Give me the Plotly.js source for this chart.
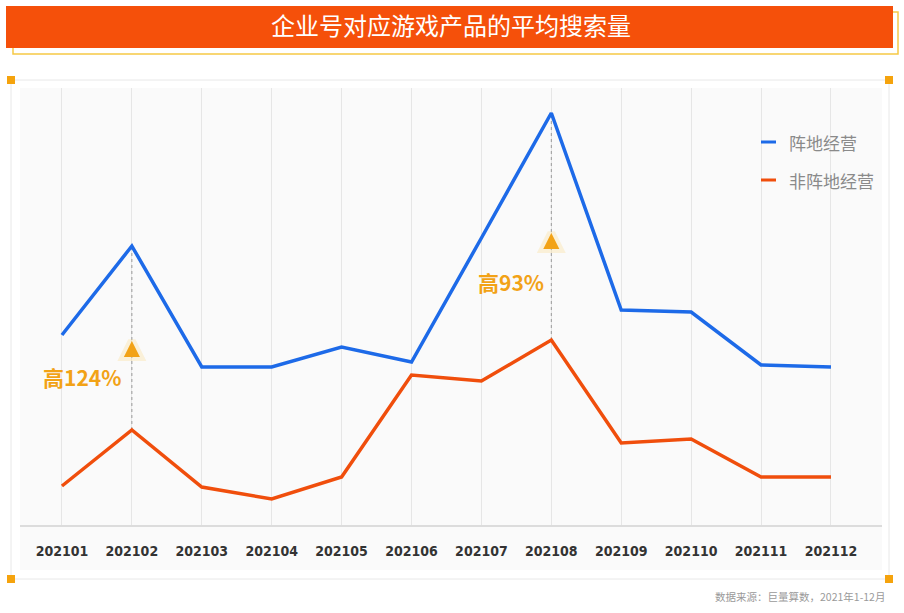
<!DOCTYPE html>
<html>
<head>
<meta charset="utf-8">
<script src="https://cdn.plot.ly/plotly-3.0.1.min.js"></script>
<style>html,body{margin:0;padding:0;background:#fff;}#chart{width:904px;height:613px;}</style>
</head>
<body>
<div id="chart"></div>
<script>
// ---- data ----
const months = ["202101","202102","202103","202104","202105","202106","202107","202108","202109","202110","202111","202112"];
const seriesNames = ["阵地经营", "非阵地经营"];
const positional = [245, 334, 213, 213, 233, 218, 342, 467, 270, 268, 215, 213];   // 阵地经营
const nonPositional = [94, 150, 93, 81, 103, 205, 199, 240, 137, 141, 103, 103];  // 非阵地经营
const highlightIdx = [1, 7];
const highlightLabels = ["高124%", "高93%"];
const markerLevels = [239, 347];
const titleText = "企业号对应游戏产品的平均搜索量";
const sourceText = "数据来源：巨量算数，2021年1-12月";

// ---- geometry helpers (pixel -> paper) ----
const W = 904, H = 613;
const L = 20, R = 22, T = 88, B = 88;
const pw = W - L - R, ph = H - T - B;
const px = x => (x - L) / pw;
const py = y => (H - B - y) / ph;

const BLUE = "#1d6ae8", ORANGE = "#f04e0c", GOLD = "#f2a216";
const xIdx = months.map((m, i) => i);

const traces = [];
// dotted connectors between the two series at highlighted months
highlightIdx.forEach(i => {
  traces.push({x: [i, i], y: [nonPositional[i], positional[i]], type: "scatter", mode: "lines",
    line: {color: "#9a9a9a", width: 1, dash: "dot"}, hoverinfo: "skip", showlegend: false});
});
traces.push({x: xIdx, y: positional, name: seriesNames[0], type: "scatter", mode: "lines",
  line: {color: BLUE, width: 3.5}, showlegend: false});
traces.push({x: xIdx, y: nonPositional, name: seriesNames[1], type: "scatter", mode: "lines",
  line: {color: ORANGE, width: 3.5}, showlegend: false});
// glow + triangle markers
traces.push({x: highlightIdx, y: markerLevels, type: "scatter", mode: "markers",
  marker: {symbol: "arrow-up", size: 16, color: "rgba(250,210,120,0.35)", line: {width: 8, color: "rgba(250,215,130,0.28)"}},
  hoverinfo: "skip", showlegend: false});
traces.push({x: highlightIdx, y: markerLevels, type: "scatter", mode: "markers",
  marker: {symbol: "arrow-up", size: 16, color: GOLD, line: {width: 0}},
  hoverinfo: "skip", showlegend: false});

const shapes = [
  // banner shadow + banner
  {type: "rect", xref: "paper", yref: "paper", x0: px(13), x1: px(898), y0: py(54), y1: py(12),
    fillcolor: "#ffffff", line: {color: "#f6c945", width: 1.5}, layer: "above"},
  {type: "rect", xref: "paper", yref: "paper", x0: px(6), x1: px(893), y0: py(48), y1: py(6),
    fillcolor: "#f5500a", line: {color: "#f5500a", width: 0}, layer: "above"},
  // outer frame
  {type: "rect", xref: "paper", yref: "paper", x0: px(11), x1: px(889), y0: py(579), y1: py(80),
    fillcolor: "rgba(0,0,0,0)", line: {color: "#e8e8e8", width: 1}, layer: "below"},
  // grey panel below axis
  {type: "rect", xref: "paper", yref: "paper", x0: 0, x1: 1, y0: py(570), y1: 1,
    fillcolor: "#fafafa", line: {width: 0}, layer: "below"},
  // legend lines
  {type: "line", xref: "paper", yref: "paper", x0: px(761), x1: px(776), y0: py(142), y1: py(142),
    line: {color: BLUE, width: 3}, layer: "above"},
  {type: "line", xref: "paper", yref: "paper", x0: px(761), x1: px(776), y0: py(180), y1: py(180),
    line: {color: ORANGE, width: 3}, layer: "above"}
];
// corner squares
[[11, 80], [889, 80], [11, 579], [889, 579]].forEach(([cx, cy]) => {
  shapes.push({type: "rect", xref: "paper", yref: "paper", x0: px(cx - 4), x1: px(cx + 4), y0: py(cy + 4), y1: py(cy - 4),
    fillcolor: "#f5a30d", line: {width: 0}, layer: "above"});
});

const CJK = "'Noto Sans CJK SC', 'Noto Sans', sans-serif";
const annotations = [
  {text: seriesNames[0], xref: "paper", yref: "paper", x: px(787), y: py(142), xanchor: "left", yanchor: "middle",
    showarrow: false, font: {family: CJK, size: 17, color: "#8a8a8a"}},
  {text: seriesNames[1], xref: "paper", yref: "paper", x: px(787), y: py(180), xanchor: "left", yanchor: "middle",
    showarrow: false, font: {family: CJK, size: 17, color: "#8a8a8a"}},
  {text: "<b>" + highlightLabels[0] + "</b>", xref: "paper", yref: "paper", x: px(82), y: py(377), xanchor: "center", yanchor: "middle",
    showarrow: false, font: {family: CJK, size: 21, color: GOLD}},
  {text: "<b>" + highlightLabels[1] + "</b>", xref: "paper", yref: "paper", x: px(511), y: py(282), xanchor: "center", yanchor: "middle",
    showarrow: false, font: {family: CJK, size: 21, color: GOLD}},
  {text: sourceText, xref: "paper", yref: "paper", x: px(887), y: py(596), xanchor: "right", yanchor: "middle",
    showarrow: false, font: {family: CJK, size: 10.5, color: "#9a9a9a"}}
];

const layout = {
  width: W, height: H,
  margin: {l: L, r: R, t: T, b: B, pad: 0},
  paper_bgcolor: "#ffffff",
  plot_bgcolor: "#fafafa",
  title: {text: titleText, xref: "paper", x: px(451), xanchor: "center", yref: "container", y: 1 - 27 / H, yanchor: "middle",
    font: {family: CJK, size: 24, color: "#ffffff"}},
  xaxis: {
    range: [-0.6, 11.73], tickvals: xIdx, ticktext: months, showgrid: true, gridcolor: "#e6e6e6", gridwidth: 1,
    zeroline: false, showline: true, linecolor: "#dcdcdc", linewidth: 1.5,
    ticks: "outside", ticklen: 13, tickcolor: "rgba(0,0,0,0)",
    tickfont: {family: "'DejaVu Sans Condensed', 'Roboto', sans-serif", size: 14, color: "#333", weight: "bold"},
    fixedrange: true
  },
  yaxis: {range: [55, 492], showgrid: false, zeroline: false, showticklabels: false, showline: false, fixedrange: true},
  shapes: shapes,
  annotations: annotations,
  showlegend: false
};

Plotly.newPlot("chart", traces, layout, {displayModeBar: false, staticPlot: true});
</script>
</body>
</html>
